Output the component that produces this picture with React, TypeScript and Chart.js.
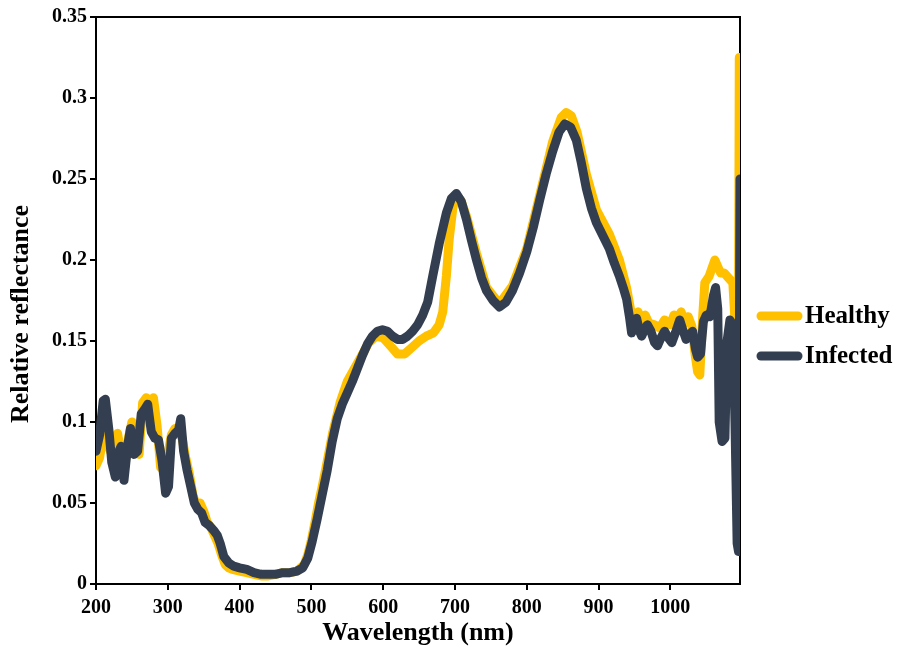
import React, { useEffect, useRef } from "react";
import { Chart, registerables } from "chart.js";

Chart.register(...registerables);

const healthyWavelengths = [
  200, 205, 210, 215, 220, 225, 230, 235, 240, 245, 250, 255, 260, 265, 270, 275, 280, 285, 290, 295,
  300, 305, 310, 315, 320, 325, 330, 335, 340, 345, 350, 355, 360, 365, 370, 375, 380, 385, 390,
  400, 410, 420, 430, 440, 450, 460, 470, 480, 490, 495, 500, 505, 510, 515, 520, 530, 540, 550,
  560, 570, 580, 590, 600, 610, 620, 630, 640, 650, 660, 670, 678, 683, 688, 692, 697, 702, 708,
  716, 730, 744, 762, 780, 800, 818, 836, 848, 855, 862, 870, 883, 897, 915, 929, 939, 946, 950,
  955, 960, 965, 970, 978, 985, 992, 1000, 1005, 1010, 1015, 1020, 1025, 1030, 1035, 1038, 1041,
  1045, 1048, 1054, 1058, 1062, 1066, 1070, 1075, 1079, 1083, 1087, 1090, 1093, 1095, 1096, 1097,
];
const healthyReflectance = [
  0.073, 0.078, 0.092, 0.088, 0.082, 0.09, 0.093, 0.08, 0.072, 0.09, 0.1, 0.085, 0.08, 0.112, 0.115, 0.11, 0.115, 0.098, 0.072, 0.07,
  0.08, 0.092, 0.096, 0.094, 0.09, 0.078, 0.068, 0.055, 0.048, 0.05, 0.045, 0.038, 0.035, 0.03, 0.025, 0.018, 0.012, 0.01, 0.009,
  0.008, 0.007, 0.006, 0.005, 0.005, 0.006, 0.007, 0.007, 0.008, 0.012, 0.018, 0.027, 0.038, 0.05, 0.06, 0.071, 0.094, 0.112, 0.125,
  0.133, 0.141, 0.149, 0.153, 0.152, 0.147, 0.142, 0.142, 0.146, 0.15, 0.153, 0.155, 0.16, 0.168, 0.19, 0.213, 0.232, 0.24, 0.237,
  0.227, 0.204, 0.183, 0.173, 0.184, 0.207, 0.24, 0.273, 0.288, 0.291, 0.289, 0.279, 0.253, 0.231, 0.216, 0.2, 0.183, 0.166, 0.163,
  0.168, 0.162, 0.166, 0.161, 0.16, 0.158, 0.163, 0.16, 0.166, 0.163, 0.168, 0.161, 0.165, 0.159, 0.14, 0.131, 0.129,
  0.165, 0.186, 0.19, 0.195, 0.2, 0.196, 0.192, 0.192, 0.19, 0.188, 0.186, 0.163, 0.158, 0.16, 0.325, 0.22,
];

const infectedWavelengths = [
  200, 205, 210, 213, 218, 222, 227, 232, 235, 239, 244, 248, 253, 258, 263, 268, 272, 277, 282, 287,
  292, 297, 301, 305, 310, 315, 318, 322, 327, 332, 337, 342, 347, 352, 358, 364, 369, 373, 378, 385,
  392, 400, 410, 420, 430, 440, 450, 460, 470, 480, 488, 495, 501, 508, 515, 522, 529, 536, 543, 550,
  557, 564, 571, 578, 585, 592, 599, 606, 613, 620, 627, 634, 641, 648, 655, 662, 669, 678, 688, 695,
  702, 709, 716, 723, 730, 737, 744, 753, 762, 771, 780, 790, 800, 809, 818, 827, 836, 845, 853, 861,
  869, 876, 883, 890, 897, 906, 915, 922, 929, 935, 939, 943, 946, 950, 953, 957, 960, 965, 968, 973,
  978, 982, 987, 992, 997, 1002, 1007, 1013, 1018, 1022, 1027, 1031, 1035, 1038, 1042, 1046, 1050, 1055,
  1060, 1063, 1066, 1068, 1072, 1076, 1079, 1083, 1087, 1090, 1093, 1095, 1097,
];
const infectedReflectance = [
  0.082, 0.092, 0.113, 0.114, 0.095, 0.075, 0.066, 0.082, 0.085, 0.064, 0.085, 0.096, 0.08, 0.082, 0.105, 0.108, 0.111, 0.094, 0.09, 0.089,
  0.076, 0.056, 0.06, 0.09, 0.093, 0.095, 0.102, 0.082, 0.07, 0.06, 0.05, 0.046, 0.044, 0.038, 0.036, 0.033, 0.03, 0.025, 0.017, 0.013,
  0.011, 0.01, 0.009, 0.007, 0.006, 0.006, 0.006, 0.007, 0.007, 0.008, 0.01, 0.016, 0.026, 0.04, 0.055, 0.07, 0.088, 0.102, 0.111, 0.118,
  0.125, 0.133, 0.141, 0.148, 0.153, 0.156, 0.157, 0.156, 0.153, 0.151, 0.151, 0.153, 0.156, 0.16, 0.166, 0.174, 0.19, 0.21, 0.229, 0.238,
  0.241, 0.236, 0.225, 0.212, 0.2, 0.189, 0.181, 0.175, 0.171, 0.174, 0.181, 0.192, 0.205, 0.22, 0.237, 0.253, 0.267, 0.279, 0.284, 0.282,
  0.274, 0.26, 0.244, 0.232, 0.223, 0.215, 0.207, 0.198, 0.19, 0.182, 0.176, 0.165, 0.155, 0.16, 0.164, 0.156, 0.153, 0.158, 0.16, 0.156,
  0.149, 0.147, 0.152, 0.156, 0.152, 0.149, 0.155, 0.163, 0.156, 0.151, 0.154, 0.156, 0.145, 0.14, 0.142, 0.162, 0.166, 0.165,
  0.178, 0.183, 0.17, 0.1, 0.088, 0.09, 0.15, 0.163, 0.16, 0.1, 0.025, 0.02, 0.25,
];

const seriesNames = ["Healthy", "Infected"];
const seriesColors = ["#FFC000", "#333F50"];
const yTicks = [0, 0.05, 0.1, 0.15, 0.2, 0.25, 0.3, 0.35];
const xTicks = [200, 300, 400, 500, 600, 700, 800, 900, 1000];
const xTitle = "Wavelength (nm)";
const yTitle = "Relative reflectance";

const FONT = "'Liberation Serif', 'Times New Roman', serif";

export default function App() {
  const ref = useRef<HTMLCanvasElement>(null);

  useEffect(() => {
    if (!ref.current) return;
    const framePlugin = {
      id: "frame",
      beforeDatasetsDraw(chart: any) {
        const { ctx, chartArea } = chart;
        ctx.save();
        ctx.strokeStyle = "#000";
        ctx.lineWidth = 2;
        ctx.beginPath();
        ctx.moveTo(chartArea.left, chartArea.top);
        ctx.lineTo(chartArea.right, chartArea.top);
        ctx.lineTo(chartArea.right, chartArea.bottom);
        ctx.stroke();
        ctx.restore();
      },
      afterDraw(chart: any) {
        const { ctx } = chart;
        ctx.save();
        // y axis title
        ctx.fillStyle = "#000";
        ctx.font = `bold 26px ${FONT}`;
        ctx.textAlign = "center";
        ctx.textBaseline = "middle";
        ctx.translate(21, 314);
        ctx.rotate(-Math.PI / 2);
        ctx.fillText(yTitle, 0, 0);
        ctx.restore();

        ctx.save();
        const items = [
          { y: 316, i: 0 },
          { y: 356, i: 1 },
        ];
        for (const it of items) {
          ctx.strokeStyle = seriesColors[it.i];
          ctx.lineWidth = 9;
          ctx.lineCap = "round";
          ctx.beginPath();
          ctx.moveTo(761, it.y);
          ctx.lineTo(798, it.y);
          ctx.stroke();
          ctx.fillStyle = "#000";
          ctx.font = `bold 25px ${FONT}`;
          ctx.textBaseline = "middle";
          ctx.textAlign = "left";
          ctx.fillText(seriesNames[it.i], 805, it.y + 1);
        }
        ctx.restore();
      },
    };

    const chart = new Chart(ref.current, {
      type: "line",
      data: {
        datasets: [
          {
            label: seriesNames[0],
            data: healthyWavelengths.map((x, i) => ({ x, y: healthyReflectance[i] })),
            borderColor: seriesColors[0],
            backgroundColor: seriesColors[0],
            borderWidth: 9,
            pointRadius: 0,
            tension: 0,
            borderJoinStyle: "round",
            borderCapStyle: "round",
            order: 2,
          },
          {
            label: seriesNames[1],
            data: infectedWavelengths.map((x, i) => ({ x, y: infectedReflectance[i] })),
            borderColor: seriesColors[1],
            backgroundColor: seriesColors[1],
            borderWidth: 9,
            pointRadius: 0,
            tension: 0,
            borderJoinStyle: "round",
            borderCapStyle: "round",
            order: 1,
          },
        ],
      },
      options: {
        animation: false,
        responsive: false,
        layout: { padding: { left: 0, right: 157, top: 17, bottom: 0 } },
        plugins: {
          legend: { display: false },
          tooltip: { enabled: false },
        },
        scales: {
          x: {
            type: "linear",
            min: 200,
            max: 1097,
            afterFit: (s: any) => {
              s.height = 66;
            },
            afterBuildTicks: (s: any) => {
              s.ticks = xTicks.map((v) => ({ value: v }));
            },
            ticks: {
              includeBounds: false,
              color: "#000",
              font: { family: FONT, size: 20, weight: "bold" },
              padding: 6,
              maxRotation: 0,
              autoSkip: false,
              callback: (v: any) => String(v),
            },
            grid: {
              display: true,
              drawOnChartArea: false,
              drawTicks: true,
              tickLength: 6,
              color: "#000",
              lineWidth: 2,
            },
            border: { display: true, color: "#000", width: 2 },
            title: {
              display: true,
              text: xTitle,
              color: "#000",
              font: { family: FONT, size: 26, weight: "bold" },
              padding: { top: 0, bottom: 1 },
            },
          },
          y: {
            type: "linear",
            min: 0,
            max: 0.35,
            afterFit: (s: any) => {
              s.width = 96;
            },
            afterBuildTicks: (s: any) => {
              s.ticks = yTicks.map((v) => ({ value: v }));
            },
            ticks: {
              color: "#000",
              font: { family: FONT, size: 20, weight: "bold" },
              padding: 3,
              callback: (v: any) => String(+Number(v).toFixed(2)),
            },
            grid: {
              display: true,
              drawOnChartArea: false,
              drawTicks: true,
              tickLength: 6,
              color: "#000",
              lineWidth: 2,
            },
            border: { display: true, color: "#000", width: 2 },
            title: { display: false },
          },
        },
      },
      plugins: [framePlugin],
    });
    return () => chart.destroy();
  }, []);

  return (
    <div style={{ position: "fixed", left: 0, top: 0, width: 897, height: 650, background: "#fff" }}>
      <canvas ref={ref} width={897} height={650} style={{ width: 897, height: 650, display: "block" }} />
    </div>
  );
}
